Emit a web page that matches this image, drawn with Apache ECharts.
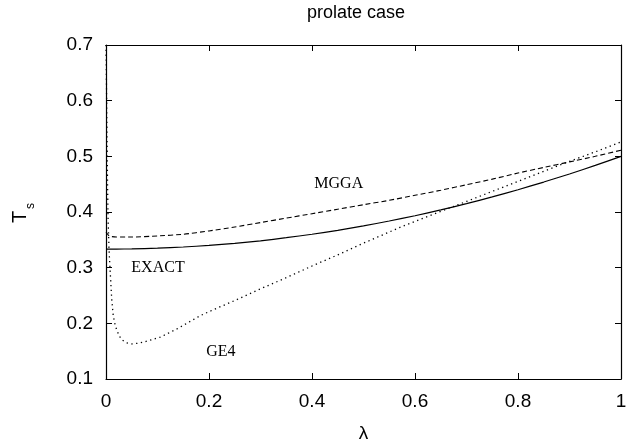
<!DOCTYPE html>
<html>
<head>
<meta charset="utf-8">
<script src="https://cdn.jsdelivr.net/npm/echarts@6/dist/echarts.min.js"></script>
<style>
  html, body { margin: 0; padding: 0; background: #fff; }
  #chart { width: 636px; height: 441px; }
</style>
</head>
<body>
<div id="chart"></div>
<script>
// λ grid shared by the EXACT and MGGA curves
const lambdaGrid = [0, 0.005, 0.01, 0.02, 0.05, 0.1, 0.15, 0.2, 0.25, 0.3, 0.35, 0.4, 0.45, 0.5,
                    0.55, 0.6, 0.65, 0.7, 0.75, 0.8, 0.85, 0.9, 0.95, 1.0];
const exactTs = [0.3333, 0.3333, 0.3333, 0.3334, 0.3337, 0.3350, 0.3371, 0.3400, 0.3438, 0.3483,
                 0.3538, 0.3600, 0.3671, 0.3750, 0.3838, 0.3933, 0.4038, 0.4150, 0.4271, 0.4400,
                 0.4538, 0.4683, 0.4838, 0.5000];
const mggaTs = [0.364, 0.358, 0.356, 0.355, 0.355, 0.357, 0.360, 0.366, 0.373, 0.381,
                0.389, 0.397, 0.405, 0.413, 0.421, 0.430, 0.439, 0.449, 0.459, 0.470,
                0.480, 0.490, 0.500, 0.511];

// GE4 needs a finer grid near λ = 0, where it drops steeply
const lambdaGE4 = [0, 0.001, 0.002, 0.003, 0.004, 0.006, 0.008, 0.011, 0.014, 0.018, 0.021, 0.025,
                   0.03, 0.04, 0.05, 0.06, 0.072, 0.09, 0.105, 0.14, 0.183, 0.2, 0.25, 0.3, 0.35,
                   0.4, 0.45, 0.5, 0.571, 0.6, 0.65, 0.7, 0.765, 0.8, 0.85, 0.9, 0.95, 1.0];
const ge4Ts = [0.700, 0.620, 0.530, 0.450, 0.390, 0.330, 0.296, 0.245, 0.214, 0.196, 0.188, 0.179,
               0.171, 0.165, 0.163, 0.164, 0.166, 0.171, 0.175, 0.191, 0.2137, 0.221, 0.241, 0.262, 0.282,
               0.303, 0.323, 0.344, 0.3725, 0.383, 0.401, 0.419, 0.4425, 0.455, 0.473, 0.491, 0.508, 0.526];

// curve annotations
const labelNames = ['EXACT', 'GE4', 'MGGA'];
const labelX = [0.101, 0.223, 0.452];
const labelY = [0.299, 0.1485, 0.450];

const xTicks = { min: 0, max: 1, interval: 0.2 };
const yTicks = { min: 0.1, max: 0.7, interval: 0.1 };

const zip = (xs, ys) => xs.map((x, i) => [x, ys[i]]);

const sansFont = '"Liberation Sans", Arial, Helvetica, sans-serif';
const serifFont = '"Liberation Serif", "Times New Roman", serif';

const axisLine = { show: true, onZero: false, lineStyle: { color: '#000', width: 1.2 } };
const axisTick = { show: true, inside: true, length: 6, lineStyle: { color: '#000', width: 1 } };

const chart = echarts.init(document.getElementById('chart'), null, { renderer: 'canvas' });
chart.setOption({
  animation: false,
  backgroundColor: '#fff',
  title: {
    text: 'prolate case',
    left: 302, top: -1,
    textStyle: { fontFamily: sansFont, fontSize: 18, fontWeight: 'normal', color: '#000' }
  },
  // rotated y-axis title: T with a subscript s
  graphic: [
    {
      type: 'text', x: 20, y: 217, rotation: Math.PI / 2,
      style: { text: 'T', fontFamily: sansFont, fontSize: 20, fill: '#000',
               textAlign: 'center', textVerticalAlign: 'middle' }
    },
    {
      type: 'text', x: 30.5, y: 206, rotation: Math.PI / 2,
      style: { text: 's', fontFamily: sansFont, fontSize: 12, fill: '#000',
               textAlign: 'center', textVerticalAlign: 'middle' }
    }
  ],
  grid: { left: 106, right: 15, top: 45, bottom: 62, containLabel: false, outerBoundsMode: 'none' },
  xAxis: [
    {
      type: 'value', position: 'bottom', min: xTicks.min, max: xTicks.max, interval: xTicks.interval,
      axisLine, axisTick, splitLine: { show: false },
      axisLabel: { color: '#000', fontFamily: sansFont, fontSize: 19, margin: 13,
                   formatter: v => (v === 0 || v === 1) ? String(v) : v.toFixed(1) },
      name: 'λ', nameLocation: 'middle', nameGap: 45,
      nameTextStyle: { color: '#000', fontFamily: sansFont, fontSize: 19 }
    },
    {
      type: 'value', position: 'top', min: xTicks.min, max: xTicks.max, interval: xTicks.interval,
      axisLine, axisTick, axisLabel: { show: false }, splitLine: { show: false }
    }
  ],
  yAxis: [
    {
      type: 'value', position: 'left', min: yTicks.min, max: yTicks.max, interval: yTicks.interval,
      axisLine, axisTick, splitLine: { show: false },
      axisLabel: { color: '#000', fontFamily: sansFont, fontSize: 19, margin: 13,
                   formatter: v => v.toFixed(1) }
    },
    {
      type: 'value', position: 'right', min: yTicks.min, max: yTicks.max, interval: yTicks.interval,
      axisLine, axisTick, axisLabel: { show: false }, splitLine: { show: false }
    }
  ],
  series: [
    {
      name: 'EXACT', type: 'line', data: zip(lambdaGrid, exactTs), smooth: 0.2,
      symbol: 'none', lineStyle: { color: '#000', width: 1.2, type: 'solid' }
    },
    {
      name: 'MGGA', type: 'line', data: zip(lambdaGrid, mggaTs), smooth: 0.2,
      symbol: 'none', lineStyle: { color: '#000', width: 1.1, type: [5, 3] }
    },
    {
      name: 'GE4', type: 'line', data: zip(lambdaGE4, ge4Ts), smooth: false,
      symbol: 'none', lineStyle: { color: '#000', width: 1.3, type: [1.3, 3.5] }
    },
    {
      name: 'labels', type: 'scatter', symbolSize: 0, silent: true,
      data: labelNames.map((n, i) => ({ name: n, value: [labelX[i], labelY[i]] })),
      label: {
        show: true, position: 'inside', formatter: p => p.name,
        fontFamily: serifFont, fontSize: 16, color: '#000', opacity: 1
      }
    }
  ]
});
</script>
</body>
</html>
